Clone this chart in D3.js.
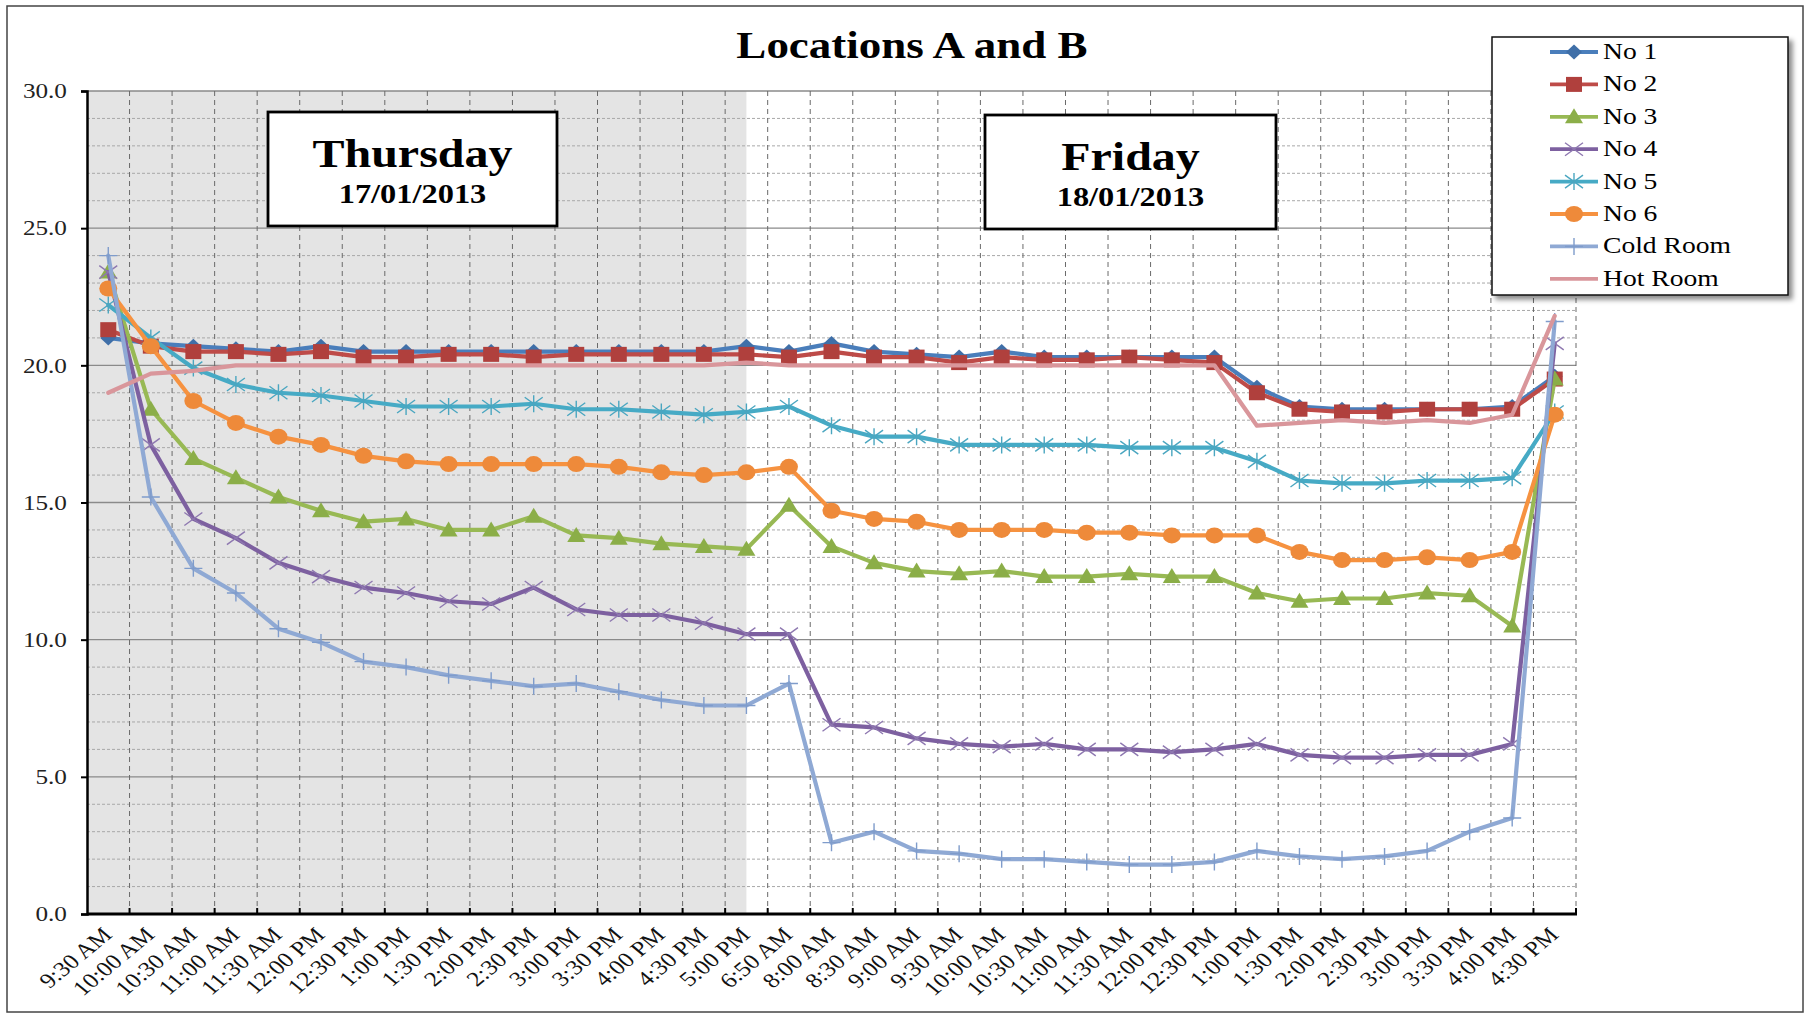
<!DOCTYPE html>
<html><head><meta charset="utf-8">
<script src="https://cdn.jsdelivr.net/npm/d3@7"></script>
<style>
html,body{margin:0;padding:0;background:#fff;}
text{font-family:"Liberation Serif","Times New Roman",serif;}
</style></head>
<body><div id="chart"></div>
<script>
// ---------- DATA ----------
const categories = ["9:30 AM","10:00 AM","10:30 AM","11:00 AM","11:30 AM","12:00 PM","12:30 PM","1:00 PM","1:30 PM","2:00 PM","2:30 PM","3:00 PM","3:30 PM","4:00 PM","4:30 PM","5:00 PM","6:50 AM","8:00 AM","8:30 AM","9:00 AM","9:30 AM","10:00 AM","10:30 AM","11:00 AM","11:30 AM","12:00 PM","12:30 PM","1:00 PM","1:30 PM","2:00 PM","2:30 PM","3:00 PM","3:30 PM","4:00 PM","4:30 PM"];
const no1  = [21.0,20.8,20.7,20.6,20.5,20.7,20.5,20.5,20.5,20.5,20.5,20.5,20.5,20.5,20.5,20.7,20.5,20.8,20.5,20.4,20.3,20.5,20.3,20.3,20.3,20.3,20.3,19.2,18.5,18.4,18.4,18.4,18.4,18.5,19.6];
const no2  = [21.3,20.7,20.5,20.5,20.4,20.5,20.3,20.3,20.4,20.4,20.3,20.4,20.4,20.4,20.4,20.4,20.3,20.5,20.3,20.3,20.1,20.3,20.2,20.2,20.3,20.2,20.1,19.0,18.4,18.3,18.3,18.4,18.4,18.4,19.5];
const no3  = [23.4,18.4,16.6,15.9,15.2,14.7,14.3,14.4,14.0,14.0,14.5,13.8,13.7,13.5,13.4,13.3,14.9,13.4,12.8,12.5,12.4,12.5,12.3,12.3,12.4,12.3,12.3,11.7,11.4,11.5,11.5,11.7,11.6,10.5,19.5];
const no4  = [23.4,17.1,14.4,13.7,12.8,12.3,11.9,11.7,11.4,11.3,11.9,11.1,10.9,10.9,10.6,10.2,10.2,6.9,6.8,6.4,6.2,6.1,6.2,6.0,6.0,5.9,6.0,6.2,5.8,5.7,5.7,5.8,5.8,6.2,20.8];
const no5  = [22.2,21.0,19.9,19.3,19.0,18.9,18.7,18.5,18.5,18.5,18.6,18.4,18.4,18.3,18.2,18.3,18.5,17.8,17.4,17.4,17.1,17.1,17.1,17.1,17.0,17.0,17.0,16.5,15.8,15.7,15.7,15.8,15.8,15.9,18.3];
const no6  = [22.8,20.7,18.7,17.9,17.4,17.1,16.7,16.5,16.4,16.4,16.4,16.4,16.3,16.1,16.0,16.1,16.3,14.7,14.4,14.3,14.0,14.0,14.0,13.9,13.9,13.8,13.8,13.8,13.2,12.9,12.9,13.0,12.9,13.2,18.2];
const coldRoom = [24.0,15.2,12.6,11.7,10.4,9.9,9.2,9.0,8.7,8.5,8.3,8.4,8.1,7.8,7.6,7.6,8.4,2.6,3.0,2.3,2.2,2.0,2.0,1.9,1.8,1.8,1.9,2.3,2.1,2.0,2.1,2.3,3.0,3.5,21.6];
const hotRoom  = [19.0,19.7,19.8,20.0,20.0,20.0,20.0,20.0,20.0,20.0,20.0,20.0,20.0,20.0,20.0,20.1,20.0,20.0,20.0,20.0,20.0,20.0,20.0,20.0,20.0,20.0,20.0,17.8,17.9,18.0,17.9,18.0,17.9,18.2,21.8];
const seriesNames = ["No 1","No 2","No 3","No 4","No 5","No 6","Cold Room","Hot Room"];
const yTicks = [0,5,10,15,20,25,30];
const titleText = "Locations A and B";
const dayLabels = ["Thursday","Friday"];
const dateLabels = ["17/01/2013","18/01/2013"];

// ---------- STYLE ----------
const seriesData = [no1,no2,no3,no4,no5,no6,coldRoom,hotRoom];
const colors = ["#4A7EBB","#BE4B48","#98B954","#7D60A0","#46AAC5","#F69240","#8FA9D4","#D9969B"];
const markerColors = ["#3F6FA8","#B0403D","#8BAE48","#8E78B0","#4AA6C0","#EE8A3A","#7F9CCB",null];
const markers = ["diamond","square","triangle","x","star","circle","plus",null];
const SX = 1.2;
const W = 1811, H = 1015;
const L = 87, R = 1576, T = 91, B = 914;

const svg = d3.select("#chart").append("svg").attr("width",W).attr("height",H);
svg.append("rect").attr("width",W).attr("height",H).attr("fill","#fff");
const defs = svg.append("defs");
const f = defs.append("filter").attr("id","shadow").attr("x","-10%").attr("y","-10%").attr("width","130%").attr("height","130%");
f.append("feDropShadow").attr("dx",4).attr("dy",4).attr("stdDeviation",2.5).attr("flood-color","#000").attr("flood-opacity",0.45);

svg.append("rect").attr("x",7).attr("y",6).attr("width",1796).attr("height",1006)
  .attr("fill","none").attr("stroke","#444").attr("stroke-width",1.5);

const x = d3.scaleBand().domain(d3.range(categories.length)).range([L,R]).paddingInner(0).paddingOuter(0);
const y = d3.scaleLinear().domain([0,30]).range([B,T]);
const cx = i => x(i) + x.bandwidth()/2;

function stext(parent, px, py, str, size, weight, anchor){
  return parent.append("text").attr("transform",`translate(${px},${py}) scale(${SX},1)`)
    .attr("text-anchor",anchor||"middle").attr("font-size",size).attr("font-weight",weight||"normal")
    .attr("fill","#000").text(str);
}

// shading Thursday
svg.append("rect").attr("x",L).attr("y",T).attr("width",cx(15)-L).attr("height",B-T).attr("fill","#E4E4E4");

// horizontal grid
const grid = svg.append("g");
d3.range(0,31).forEach(v=>{
  if(v===0) return;
  const major = v%5===0;
  grid.append("line").attr("x1",L).attr("x2",R).attr("y1",y(v)).attr("y2",y(v))
    .attr("stroke",major?"#8a8a8a":"#a8a8a8").attr("stroke-width",major?1.3:1)
    .attr("stroke-dasharray",major?null:"3,2");
});
// vertical grid at category boundaries
d3.range(1,categories.length+1).forEach(k=>{
  const gx = L + k*x.step();
  grid.append("line").attr("x1",gx).attr("x2",gx).attr("y1",T).attr("y2",B)
    .attr("stroke","#6a6a6a").attr("stroke-width",1).attr("stroke-dasharray","5,4");
});

// Y axis
const yAxis = svg.append("g").attr("transform",`translate(${L},0)`)
  .call(d3.axisLeft(y).tickValues(yTicks).tickFormat(d3.format(".1f")).tickSize(6).tickPadding(10.7));
yAxis.select(".domain").attr("stroke","#000").attr("stroke-width",2.5);
yAxis.selectAll(".tick line").attr("stroke","#000").attr("stroke-width",2);
yAxis.selectAll(".tick text").attr("font-size",21).attr("font-family","'Liberation Serif',serif")
  .attr("fill","#222").attr("transform",`scale(${SX},1)`);

// X axis
const xAxis = svg.append("g").attr("transform",`translate(0,${B})`)
  .call(d3.axisBottom(x).tickFormat(i=>categories[i]).tickSize(0).tickPadding(0));
xAxis.select(".domain").remove();
xAxis.selectAll(".tick text").attr("font-size",21).attr("font-family","'Liberation Serif',serif")
  .attr("fill","#111").attr("text-anchor","end").attr("x",null).attr("y",null).attr("dy",null)
  .attr("transform",`translate(5,22) scale(${SX},1) rotate(-45)`);
svg.append("line").attr("x1",L).attr("x2",R+1).attr("y1",B).attr("y2",B).attr("stroke","#000").attr("stroke-width",3);
d3.range(1,categories.length+1).forEach(k=>{
  const gx = L + k*x.step();
  svg.append("line").attr("x1",gx).attr("x2",gx).attr("y1",B-6).attr("y2",B).attr("stroke","#000").attr("stroke-width",2);
});

// marker drawing
function marker(g, type, col, px, py){
  const s = g.append("g").attr("transform",`translate(${px},${py})`);
  if(type==="diamond") s.append("path").attr("d","M0,-7.5L8,0L0,7.5L-8,0Z").attr("fill",col);
  else if(type==="square") s.append("rect").attr("x",-8).attr("y",-7.5).attr("width",16).attr("height",15).attr("fill",col);
  else if(type==="triangle") s.append("path").attr("d","M0,-8.5L9,6.5L-9,6.5Z").attr("fill",col);
  else if(type==="circle") s.append("ellipse").attr("rx",9).attr("ry",8).attr("fill",col);
  else if(type==="x") s.append("path").attr("d","M-9,-6.5L9,6.5M-9,6.5L9,-6.5").attr("stroke",col).attr("stroke-width",1.4).attr("fill","none");
  else if(type==="star") s.append("path").attr("d","M-9,-6.5L9,6.5M-9,6.5L9,-6.5M0,-8.5L0,8.5").attr("stroke",col).attr("stroke-width",1.4).attr("fill","none");
  else if(type==="plus") s.append("path").attr("d","M-9,0L9,0M0,-8.5L0,8.5").attr("stroke",col).attr("stroke-width",1.4).attr("fill","none");
}

// series
const line = d3.line().x((d,i)=>cx(i)).y(d=>y(d));
const plot = svg.append("g");
seriesData.forEach((data,si)=>{
  plot.append("path").datum(data).attr("d",line).attr("fill","none")
    .attr("stroke",colors[si]).attr("stroke-width",4.2).attr("stroke-linejoin","round").attr("stroke-linecap","round");
  if(markers[si]) data.forEach((v,i)=>marker(plot, markers[si], markerColors[si], cx(i), y(v)));
});

// Title
stext(svg, 912, 58, titleText, 37.5, "bold");

// Day boxes
const boxes = [{x:268,y:112,w:289,h:114,cx:412.5,b1:167,b2:203},{x:985,y:115,w:291,h:114,cx:1130.5,b1:170,b2:206}];
boxes.forEach((b,k)=>{
  svg.append("rect").attr("x",b.x).attr("y",b.y).attr("width",b.w).attr("height",b.h)
    .attr("fill","#fff").attr("stroke","#000").attr("stroke-width",2.8);
  stext(svg, b.cx, b.b1, dayLabels[k], 40, "bold");
  stext(svg, b.cx, b.b2, dateLabels[k], 27, "bold");
});

// Legend
const lg = svg.append("g");
lg.append("rect").attr("x",1492).attr("y",37).attr("width",296).attr("height",258)
  .attr("fill","#fff").attr("stroke","#111").attr("stroke-width",1.5).attr("filter","url(#shadow)");
seriesNames.forEach((nm,si)=>{
  const ry = 52 + si*32.4;
  lg.append("line").attr("x1",1550).attr("x2",1598).attr("y1",ry).attr("y2",ry)
    .attr("stroke",colors[si]).attr("stroke-width",3.8);
  if(markers[si]) marker(lg, markers[si], markerColors[si], 1574, ry);
  stext(lg, 1603, ry+7, nm, 23, "normal", "start");
});
</script>
</body></html>
